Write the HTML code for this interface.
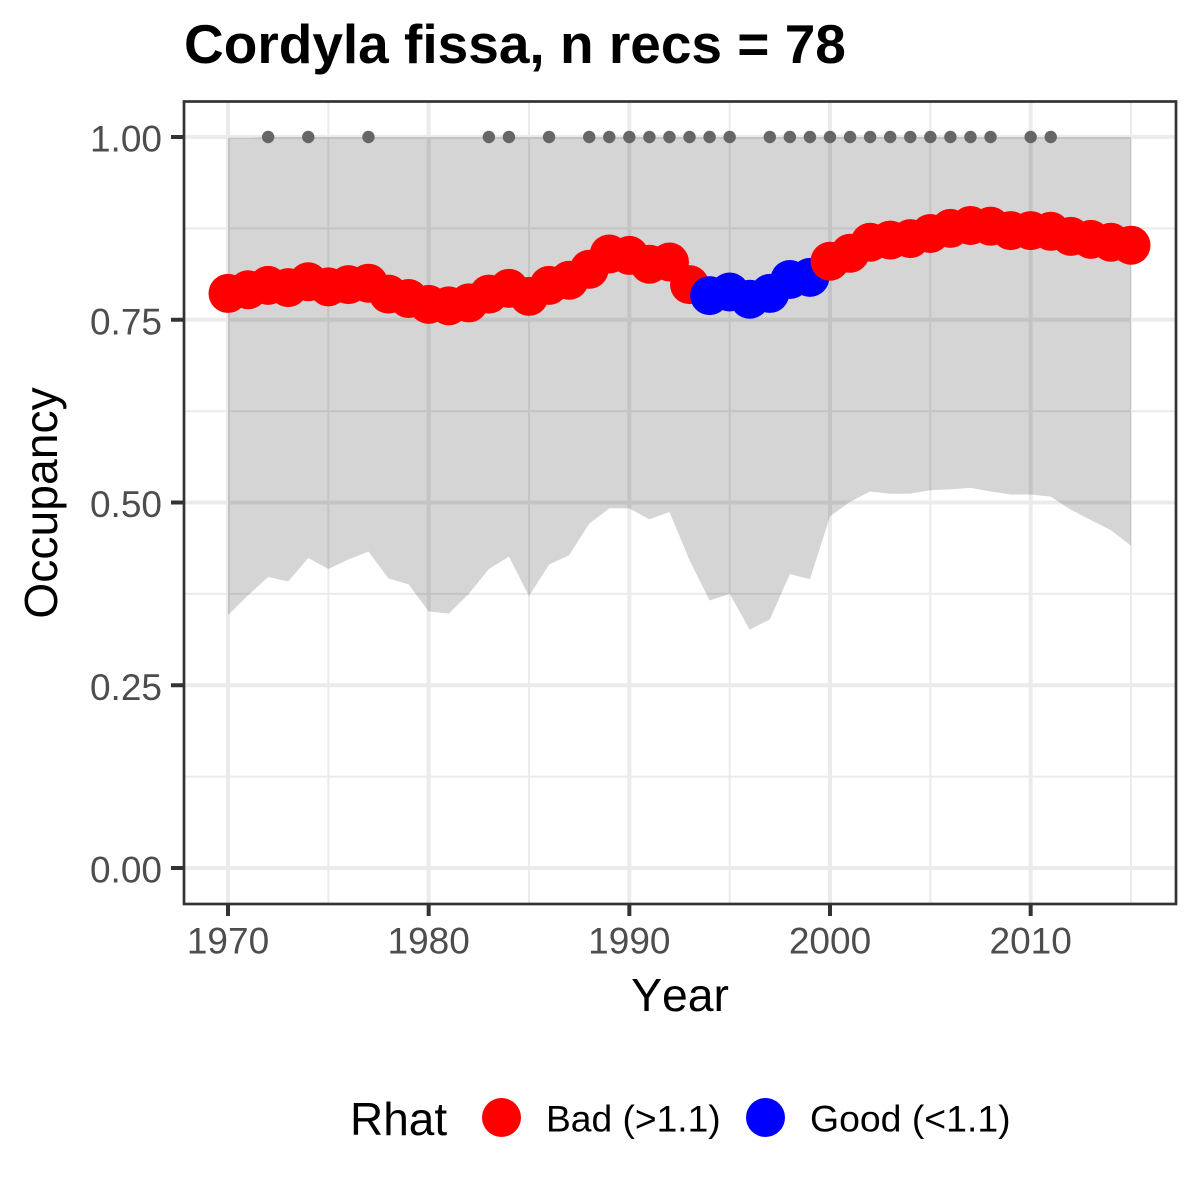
<!DOCTYPE html>
<html lang="en">
<head>
<meta charset="utf-8">
<title>Cordyla fissa occupancy</title>
<style>
html,body{margin:0;padding:0;background:#fff;width:1200px;height:1200px;overflow:hidden}
svg{display:block}
text{font-family:"Liberation Sans",Arial,sans-serif;font-kerning:none}
</style>
</head>
<body>
<svg id="chart" xmlns="http://www.w3.org/2000/svg" width="1200" height="1200" viewBox="0 0 1200 1200">
  <rect x="0" y="0" width="1200" height="1200" fill="#fff"/>
  <text x="184" y="63" font-size="55" font-weight="700" fill="#000">Cordyla fissa, n recs = 78</text>
  <g id="grid"></g>
  <path id="ribbon" fill="#000" fill-opacity="0.165"></path>
  <g id="records"></g>
  <g id="means"></g>
  <rect x="184" y="101.5" width="992" height="802.5" fill="none" stroke="#333" stroke-width="2.7"/>
  <g id="xaxis"></g>
  <g id="yaxis"></g>
  <text x="680" y="1011" font-size="46.3" text-anchor="middle" fill="#000">Year</text>
  <text transform="translate(57 503) rotate(-90)" font-size="46.3" text-anchor="middle" fill="#000">Occupancy</text>
  <g>
    <text x="350" y="1135" font-size="46" fill="#000">Rhat</text>
    <circle cx="501.5" cy="1117.5" r="19.5" fill="#ff0000"/>
    <text x="546" y="1131.5" font-size="37.2" fill="#000">Bad (&gt;1.1)</text>
    <circle cx="765.5" cy="1117.5" r="19.5" fill="#0000ff"/>
    <text x="810" y="1131.5" font-size="37.4" fill="#000">Good (&lt;1.1)</text>
  </g>
</svg>
<script>
const years = [1970,1971,1972,1973,1974,1975,1976,1977,1978,1979,1980,1981,1982,1983,1984,1985,1986,1987,1988,1989,1990,1991,1992,1993,1994,1995,1996,1997,1998,1999,2000,2001,2002,2003,2004,2005,2006,2007,2008,2009,2010,2011,2012,2013,2014,2015];
const meanOccupancy = [.786,.791,.797,.794,.802,.795,.798,.800,.785,.779,.771,.769,.773,.785,.793,.782,.797,.804,.819,.840,.838,.826,.829,.798,.783,.788,.778,.786,.805,.808,.830,.841,.856,.859,.861,.868,.875,.879,.878,.872,.872,.871,.864,.860,.856,.852];
const lowerBound = [.346,.373,.398,.392,.424,.409,.422,.433,.396,.388,.351,.348,.375,.409,.426,.372,.415,.428,.471,.492,.492,.477,.487,.421,.366,.375,.326,.340,.402,.395,.481,.501,.515,.512,.512,.517,.518,.520,.515,.511,.511,.508,.490,.476,.462,.441];
const upperBound = [.999,.999,1,1,1,1,1,1,1,1,1,1,1,1,1,1,1,1,1,1,1,1,1,1,1,1,1,1,1,1,1,1,1,1,1,1,1,1,1,1,1,1,1,1,1,1];
const rhatStatus = ["Bad","Bad","Bad","Bad","Bad","Bad","Bad","Bad","Bad","Bad","Bad","Bad","Bad","Bad","Bad","Bad","Bad","Bad","Bad","Bad","Bad","Bad","Bad","Bad","Good","Good","Good","Good","Good","Good","Bad","Bad","Bad","Bad","Bad","Bad","Bad","Bad","Bad","Bad","Bad","Bad","Bad","Bad","Bad","Bad"];
const recordYears = [1972,1974,1977,1983,1984,1986,1988,1989,1990,1991,1992,1993,1994,1995,1997,1998,1999,2000,2001,2002,2003,2004,2005,2006,2007,2008,2010,2011];
const xTicks = [1970,1980,1990,2000,2010];
const xMinorTicks = [1975,1985,1995,2005,2015];
const yTicks = [0,0.25,0.5,0.75,1];
const yTickLabels = ["0.00","0.25","0.50","0.75","1.00"];
const yMinorTicks = [0.125,0.375,0.625,0.875];

const SVG_NS = "http://www.w3.org/2000/svg";
const panel = {left:184, right:1176, top:101, bottom:904};
function xScale(year){ return 228 + (year - 1970) * (903 / 45); }
function yScale(value){ return 868 - value * 731; }
function make(tag, attrs, parent){
  const el = document.createElementNS(SVG_NS, tag);
  for (const k in attrs) el.setAttribute(k, attrs[k]);
  parent.appendChild(el);
  return el;
}

const grid = document.getElementById("grid");
yMinorTicks.forEach(function(v){
  const el = make("line", {x1:panel.left, x2:panel.right, y1:yScale(v), y2:yScale(v), stroke:"#ebebeb", "stroke-width":2}, grid);
  
  
});
xMinorTicks.forEach(function(v){
  const el = make("line", {x1:xScale(v), x2:xScale(v), y1:panel.top, y2:panel.bottom, stroke:"#ebebeb", "stroke-width":2}, grid);
  
  
});
yTicks.forEach(function(v){
  const el = make("line", {x1:panel.left, x2:panel.right, y1:yScale(v), y2:yScale(v), stroke:"#ebebeb", "stroke-width":4}, grid);
  
  
});
xTicks.forEach(function(v){
  const el = make("line", {x1:xScale(v), x2:xScale(v), y1:panel.top, y2:panel.bottom, stroke:"#ebebeb", "stroke-width":4}, grid);
  
  
});

let ribbonPath = "";
years.forEach(function(y, i){
  ribbonPath += (i ? "L" : "M") + xScale(y).toFixed(2) + " " + yScale(upperBound[i]).toFixed(2);
});
for (let i = years.length - 1; i >= 0; i--) {
  ribbonPath += "L" + xScale(years[i]).toFixed(2) + " " + yScale(lowerBound[i]).toFixed(2);
}
document.getElementById("ribbon").setAttribute("d", ribbonPath + "Z");

const records = document.getElementById("records");
recordYears.forEach(function(y){
  const el = make("circle", {cx:xScale(y), cy:yScale(1), r:6.2, fill:"#666666"}, records);
  
  
});

const means = document.getElementById("means");
years.forEach(function(y, i){
  const el = make("circle", {cx:xScale(y), cy:yScale(meanOccupancy[i]), r:19.5, fill:rhatStatus[i] === "Bad" ? "#ff0000" : "#0000ff"}, means);
  
  
});

const xaxis = document.getElementById("xaxis");
xTicks.forEach(function(v){
  const tick = make("line", {x1:xScale(v), x2:xScale(v), y1:panel.bottom, y2:panel.bottom + 12, stroke:"#333", "stroke-width":4}, xaxis);
  
  
  const label = make("text", {x:xScale(v), y:953.5, "font-size":37, "text-anchor":"middle", fill:"#4d4d4d"}, xaxis);
  label.textContent = String(v);
  
  
});

const yaxis = document.getElementById("yaxis");
yTicks.forEach(function(v, i){
  const tick = make("line", {x1:panel.left - 13, x2:panel.left, y1:yScale(v), y2:yScale(v), stroke:"#333", "stroke-width":4}, yaxis);
  
  
  const label = make("text", {x:162, y:yScale(v) + 14.5, "font-size":37, "text-anchor":"end", fill:"#4d4d4d"}, yaxis);
  label.textContent = yTickLabels[i];
  
  
});
</script>
</body>
</html>
